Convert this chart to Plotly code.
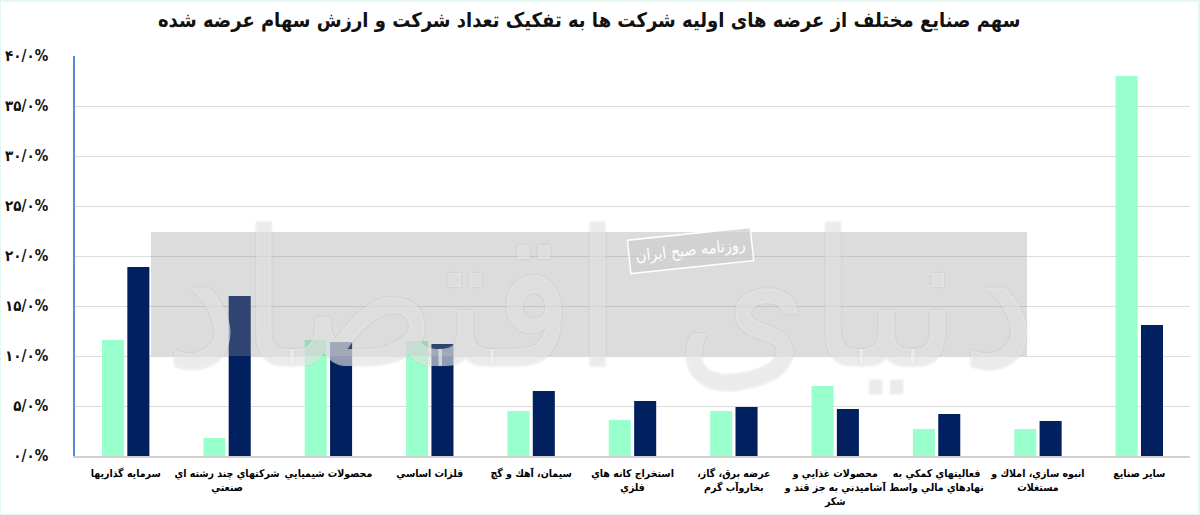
import plotly.graph_objects as go

categories = [
    "سرمايه گذاريها",
    "شرکتهاي چند رشته اي<br>صنعتي",
    "محصولات شيميايي",
    "فلزات اساسي",
    "سيمان، آهك و گچ",
    "استخراج کانه هاي<br>فلزي",
    "عرضه برق، گاز،\u200f<br>بخاروآب گرم",
    "محصولات غذايي و<br>آشاميدني به جز قند و<br>شکر",
    "فعاليتهاي کمکي به<br>نهادهاي مالي واسط",
    "انبوه سازي، املاك و<br>مستغلات",
    "ساير صنايع",
]
share_count = [11.6, 1.8, 11.6, 11.5, 4.5, 3.6, 4.5, 7.0, 2.7, 2.7, 38.0]
share_value = [18.9, 16.0, 11.4, 11.2, 6.5, 5.5, 4.9, 4.7, 4.2, 3.5, 13.1]

tick_vals = [0, 5, 10, 15, 20, 25, 30, 35, 40]
tick_text = ["۰/۰%", "۵/۰%", "۱۰/۰%", "۱۵/۰%", "۲۰/۰%", "۲۵/۰%", "۳۰/۰%", "۳۵/۰%", "۴۰/۰%"]

title_text = "سهم صنایع مختلف از عرضه های اولیه شرکت ها به تفکیک تعداد شرکت و ارزش سهام عرضه شده"

FONT = "DejaVu Sans Condensed, DejaVu Sans"

fig = go.Figure()
fig.add_trace(go.Bar(x=categories, y=share_count, name="تعداد شرکت",
                     marker=dict(color="#99FFCC", line=dict(width=0))))
fig.add_trace(go.Bar(x=categories, y=share_value, name="ارزش سهام",
                     marker=dict(color="#002060", line=dict(width=0))))

fig.update_layout(
    width=1200, height=515,
    margin=dict(l=75, r=10, t=56, b=59, autoexpand=False),
    paper_bgcolor="white", plot_bgcolor="white",
    showlegend=False,
    bargap=0.5, bargroupgap=0.13,
    font=dict(family=FONT, color="black"),
    title=dict(text=title_text, x=0.491, xanchor="center", y=0.962, yanchor="middle",
               yref="container",
               font=dict(family=FONT, size=20, color="#111111", weight="bold")),
)
fig.update_xaxes(
    showgrid=False, showline=True, linecolor="#d0d0d0", linewidth=1.5,
    tickfont=dict(family=FONT, size=10.5, color="black", weight="bold"),
    tickangle=0, ticks="", ticklabelstandoff=7, automargin=False,
)
fig.update_yaxes(
    range=[0, 40], tickvals=tick_vals, ticktext=tick_text,
    showgrid=True, gridcolor="#dcdcdc", gridwidth=1,
    showline=True, linecolor="#5b8bd6", linewidth=1.5,
    zeroline=False, automargin=False,
    tickfont=dict(family=FONT, size=15, color="#111111", weight="bold"),
    ticklabelstandoff=22,
)

# watermark overlay
fig.add_shape(type="rect", xref="paper", yref="paper",
              x0=(151 - 75) / 1115, x1=(1027 - 75) / 1115,
              y0=(456 - 356) / 400, y1=(456 - 232) / 400,
              fillcolor="rgb(147,147,147)", opacity=0.32, line=dict(width=0), layer="above")
fig.add_annotation(xref="paper", yref="paper", x=(600 - 75) / 1115, y=(456 - 300) / 400,
                   text="دنیای اقتصاد", showarrow=False,
                   font=dict(family=FONT, size=190, color="rgba(255,255,255,0.5)",
                             shadow="0px 0px 2px rgba(120,120,120,0.6)"))
fig.add_annotation(xref="paper", yref="paper", x=(690 - 75) / 1115, y=(456 - 250) / 400,
                   text="روزنامه صبح ایران", showarrow=False, textangle=-6,
                   font=dict(family=FONT, size=16, color="white"),
                   bgcolor="rgba(205,205,205,0.7)", bordercolor="white", borderwidth=1.5, borderpad=6)
# thin border of image
fig.add_shape(type="rect", xref="paper", yref="paper", x0=-75 / 1115, x1=1 + 9 / 1115,
              y0=-59 / 400, y1=1 + 55 / 400, line=dict(color="#e6f7f2", width=2), layer="below")

fig.write_html("out.html", config={"displayModeBar": False},
               post_script="document.body.style.margin='0';document.body.style.overflow='hidden';")
